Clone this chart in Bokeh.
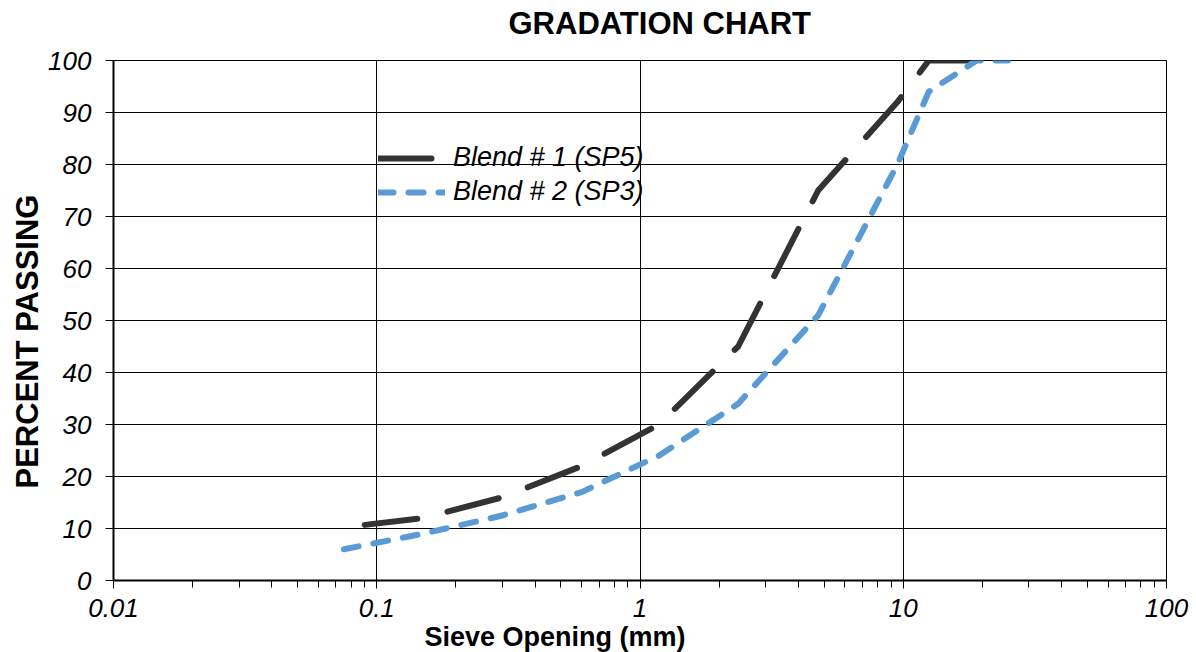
import math

from bokeh.embed import file_html
from bokeh.models import FixedTicker, Legend, LegendItem, Title
from bokeh.plotting import figure
from bokeh.resources import INLINE

# Percent passing for each blend, per sieve opening (mm)
blend1_sieve_mm = [0.09, 0.15, 0.3, 0.6, 1.18, 2.36, 4.75, 9.5, 12.5, 19.0]
blend1_passing = [10.7, 12.0, 16.0, 22.0, 30.0, 45.0, 75.0, 92.0, 100.0, 100.0]

blend2_sieve_mm = [0.075, 0.15, 0.3, 0.6, 1.18, 2.36, 4.75, 9.5, 12.5, 19.0, 25.0]
blend2_passing = [6.0, 9.0, 12.5, 17.0, 24.0, 34.0, 51.0, 80.0, 94.0, 100.0, 100.0]

series_names = ["Blend # 1 (SP5)", "Blend # 2 (SP3)"]

x_ticks = [0.01, 0.1, 1.0, 10.0, 100.0]
x_tick_labels = ["0.01", "0.1", "1", "10", "100"]
y_ticks = [0, 10, 20, 30, 40, 50, 60, 70, 80, 90, 100]
y_tick_labels = ["0", "10", "20", "30", "40", "50", "60", "70", "80", "90", "100"]

chart_title = "GRADATION CHART"
x_title = "Sieve Opening (mm)"
y_title = "PERCENT PASSING"

FONT = "Liberation Sans"
W, H = 1196, 652

p = figure(
    width=W, height=H,
    x_axis_type="log",
    x_range=(0.01, 100.0), y_range=(0.0, 100.0),
    output_backend="svg", toolbar_location=None,
    min_border_left=113, min_border_right=30,
    min_border_top=60, min_border_bottom=72,
)
p.background_fill_color = "white"
p.border_fill_color = "white"
p.outline_line_color = "black"
p.outline_line_width = 1

# chart title, shifted right of the frame's left edge
p.title.text = chart_title
p.title.align = "left"
p.title.offset = 395
p.title.standoff = 4
p.title.text_font = FONT
p.title.text_font_style = "bold"
p.title.text_font_size = "31px"
p.title.text_color = "black"

# thin blank panel between the frame and the title to lift the title
p.add_layout(Title(text=" ", text_font_size="1px", standoff=15), "above")

# x axis: decades with 2..9 minor ticks below the axis
minor = [m * 10 ** e for e in range(-2, 2) for m in range(2, 10)]
xticker = FixedTicker(ticks=x_ticks, minor_ticks=minor)
yticker = FixedTicker(ticks=y_ticks, minor_ticks=[])

xa = p.xaxis[0]
xa.ticker = xticker
xa.major_label_overrides = {t: s for t, s in zip(x_ticks, x_tick_labels)}
xa.minor_tick_out = 7
xa.minor_tick_in = 0
xa.minor_tick_line_color = "black"
xa.major_label_standoff = 10

ya = p.yaxis[0]
ya.ticker = yticker
ya.major_label_overrides = {t: s for t, s in zip(y_ticks, y_tick_labels)}
ya.minor_tick_out = 0
ya.minor_tick_in = 0
ya.major_label_standoff = 14

for ax in (xa, ya):
    ax.axis_line_color = "black"
    ax.axis_line_width = 2
    ax.major_tick_line_color = "black"
    ax.major_tick_line_width = 1
    ax.major_tick_out = 8
    ax.major_tick_in = 0
    ax.major_label_text_font = FONT
    ax.major_label_text_font_style = "italic"
    ax.major_label_text_font_size = "26px"
    ax.major_label_text_color = "black"

p.xgrid.ticker = xticker
p.ygrid.ticker = yticker
for g in (p.xgrid, p.ygrid):
    g.grid_line_color = "black"
    g.grid_line_width = 1
    g.minor_grid_line_color = None

# axis titles as side panels so they can be shifted along the axis
p.add_layout(Title(text=x_title, align="left", offset=311, standoff=0,
                   text_font=FONT, text_font_style="bold", text_font_size="27px",
                   text_color="black"), "below")
p.add_layout(Title(text=y_title, align="left", offset=92, standoff=2,
                   text_font=FONT, text_font_style="bold", text_font_size="31px",
                   text_color="black"), "left")

r1 = p.line(blend1_sieve_mm, blend1_passing, line_color="#333333", line_width=6,
            line_dash="53 31", line_cap="round", line_join="round")
r2 = p.line(blend2_sieve_mm, blend2_passing, line_color="#5B9BD5", line_width=6,
            line_dash="15 15", line_cap="round", line_join="round")

legend = Legend(
    items=[LegendItem(label=series_names[0], renderers=[r1]),
           LegendItem(label=series_names[1], renderers=[r2])],
    location=(265, 373),
    orientation="vertical",
    glyph_width=67, glyph_height=30, label_height=30,
    spacing=3, padding=0, margin=0, label_standoff=8,
    border_line_alpha=0, background_fill_alpha=0,
    label_text_font=FONT, label_text_font_style="italic",
    label_text_font_size="27px", label_text_color="black",
)
p.add_layout(legend)

open("out.html", "w").write(file_html(p, INLINE))
